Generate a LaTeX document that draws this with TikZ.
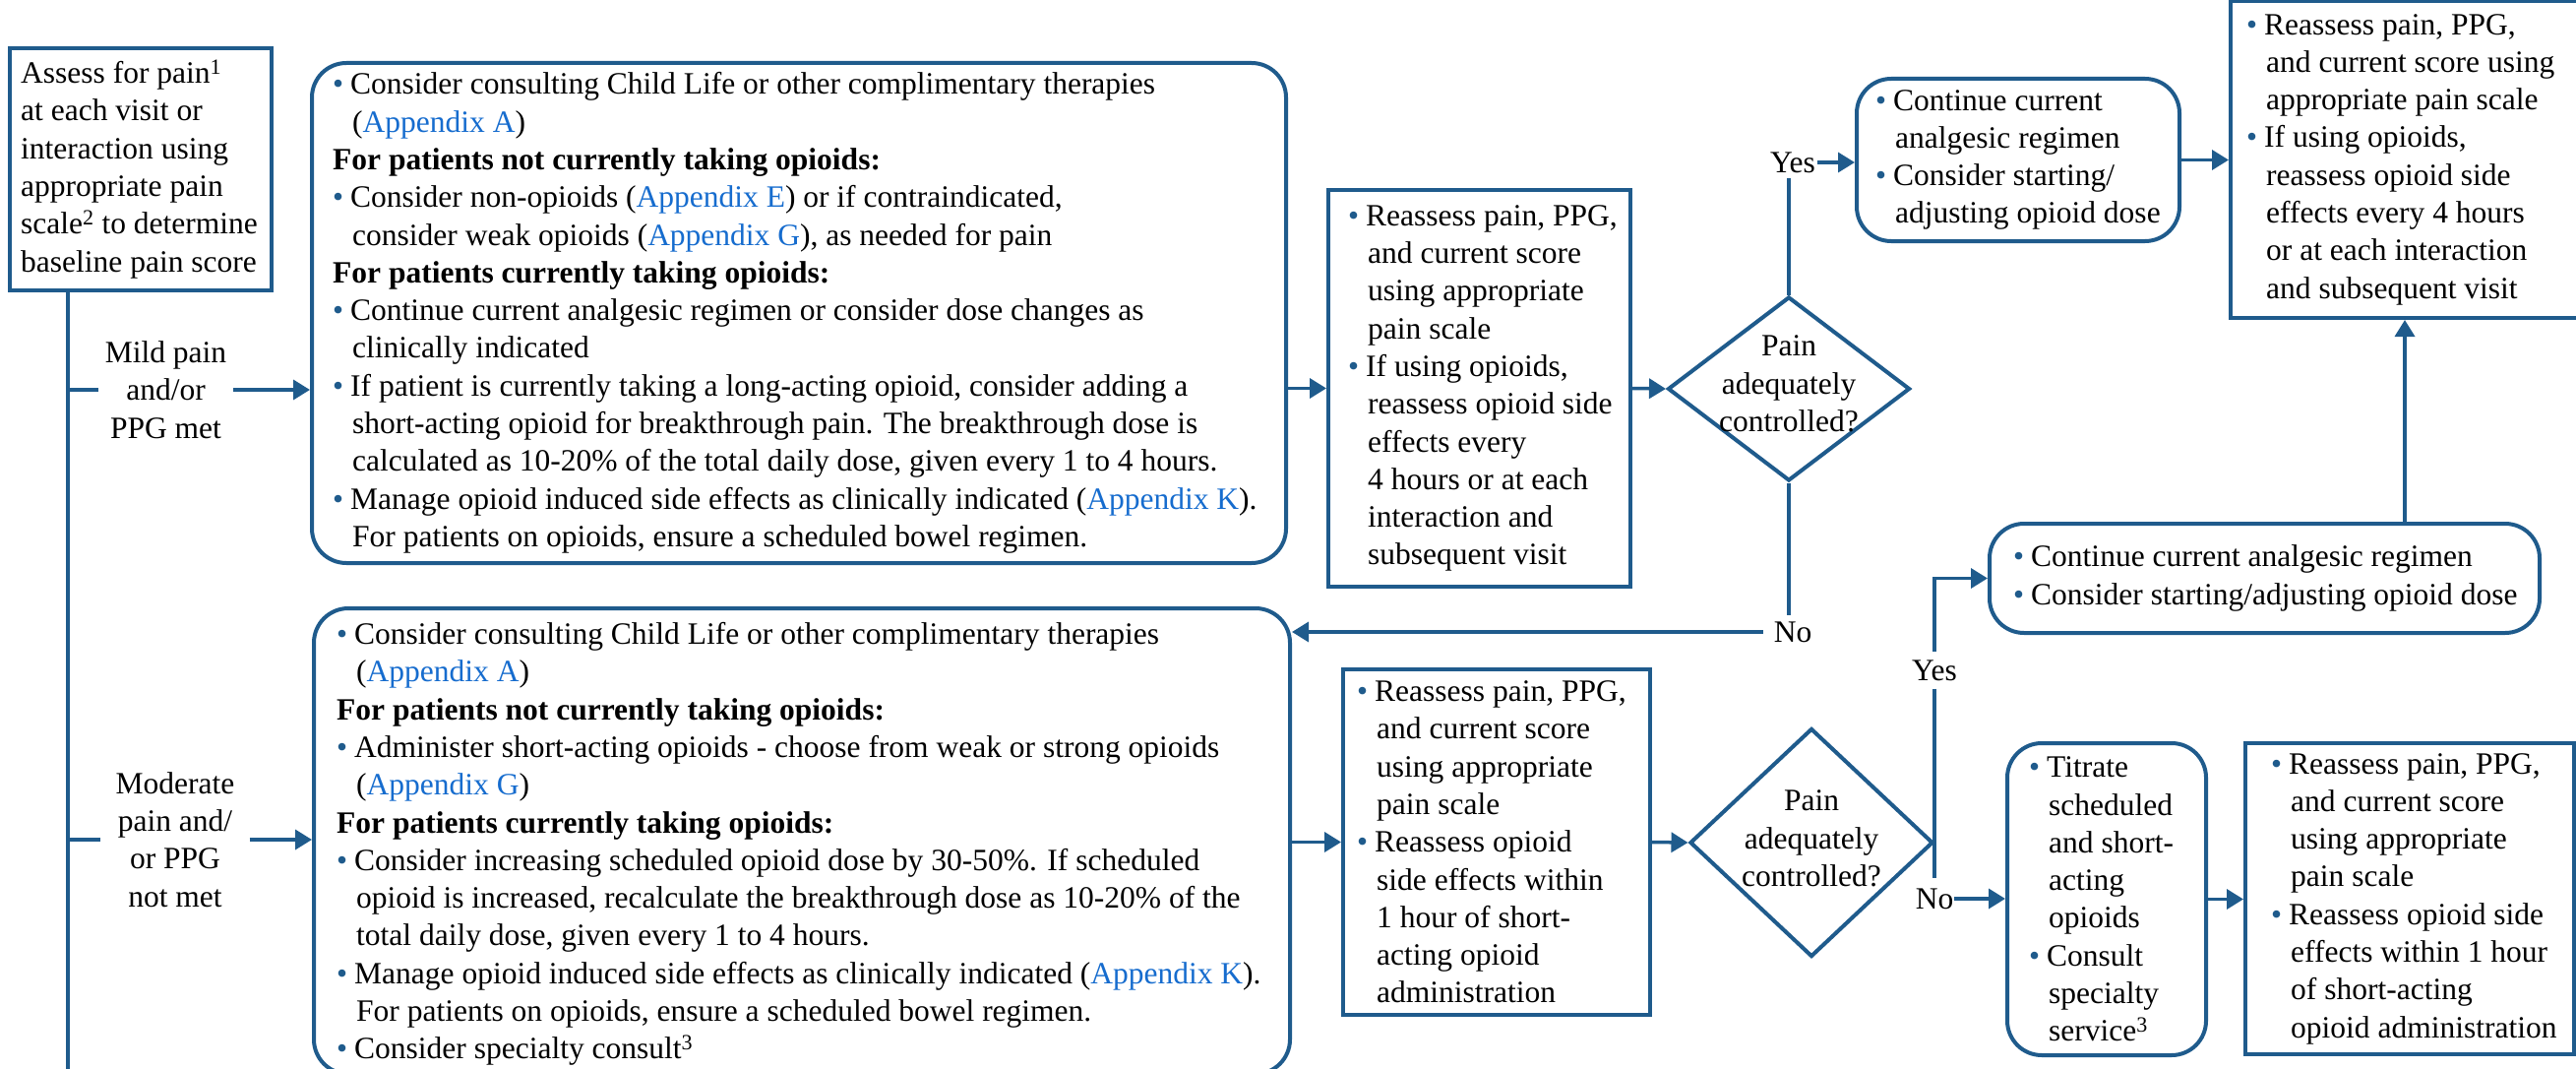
\documentclass[tikz,border=0pt]{standalone}
\usepackage{fontspec}
\setmainfont{Liberation Serif}
\usetikzlibrary{shapes.geometric,arrows.meta,calc}
\definecolor{lc}{RGB}{31,91,140}
\definecolor{lk}{RGB}{22,108,206}
\newcommand\fs{\fontsize{31.5}{38.3}\selectfont}
\newcommand\bl{\makebox[18pt][l]{\color{lc}\textbullet}}
\newcommand\ci{\hspace*{20pt}}
\newcommand\apx[1]{{\color{lk}Appendix #1}}
\tikzset{
  rbox/.style={draw=lc, line width=4pt, rounded corners=35pt, inner sep=0pt},
  sbox/.style={draw=lc, line width=4pt, inner sep=0pt},
  dia/.style={draw=lc, line width=4pt, diamond, inner sep=0pt},
  txt/.style={align=left, inner sep=0pt, font=\fs, anchor=west},
  lbl/.style={align=center, inner sep=0pt, font=\fs},
  yn/.style={inner xsep=2pt, font=\fs},
  conn/.style={draw=lc, line width=3.5pt},
  arr/.style={conn, -{Triangle[length=17pt,width=20pt]}},
}
\begin{document}
\begin{tikzpicture}[x=1pt,y=-1pt]
\useasboundingbox (0,0) rectangle (2618,1086);

% boxes
\node[sbox, minimum width=266pt, minimum height=246pt] (assess) at (143,172) {};
\node[rbox, minimum width=990pt, minimum height=508pt] (box1) at (812,318) {};
\node[rbox, minimum width=992pt, minimum height=473pt] (box2) at (815,854.5) {};
\node[sbox, minimum width=307pt, minimum height=403pt] (A) at (1503.5,394.5) {};
\node[dia, minimum width=246pt, minimum height=187pt] (d1) at (1818,395) {};
\node[rbox, minimum width=328pt, minimum height=165pt] (B) at (2051,162.5) {};
\node[sbox, minimum width=354pt, minimum height=322pt] (C) at (2444,162) {};
\node[rbox, minimum width=559pt, minimum height=111pt] (D) at (2301.5,587.5) {};
\node[sbox, minimum width=312pt, minimum height=351pt] (G) at (1521,855.5) {};
\node[dia, minimum width=247pt, minimum height=232pt] (d2) at (1841,856) {};
\node[rbox, minimum width=202pt, minimum height=317pt] (E) at (2141,913.5) {};
\node[sbox, minimum width=334pt, minimum height=316pt] (F) at (2449,913) {};

% texts
\node[txt] (assesst) at ([xshift=13pt]assess.west) {Assess for pain\textsuperscript{1}\\at each visit or\\interaction using\\appropriate pain\\scale\textsuperscript{2} to determine\\baseline pain score};

\node[txt] (box1t) at ([xshift=23pt]box1.west) {\bl Consider consulting Child Life or other complimentary therapies\\
\ci(\apx{A})\\
\textbf{For patients not currently taking opioids:}\\
\bl Consider non-opioids (\apx{E}) or if contraindicated,\\
\ci consider weak opioids (\apx{G}), as needed for pain\\
\textbf{For patients currently taking opioids:}\\
\bl Continue current analgesic regimen or consider dose changes as\\
\ci clinically indicated\\
\bl If patient is currently taking a long-acting opioid, consider adding a\\
\ci short-acting opioid for breakthrough pain. The breakthrough dose is\\
\ci calculated as 10-20\% of the total daily dose, given every 1 to 4 hours.\\
\bl Manage opioid induced side effects as clinically indicated (\apx{K}).\\
\ci For patients on opioids, ensure a scheduled bowel regimen.};

\node[txt] (box2t) at ([xshift=25pt,yshift=-3pt]box2.west) {\bl Consider consulting Child Life or other complimentary therapies\\
\ci(\apx{A})\\
\textbf{For patients not currently taking opioids:}\\
\bl Administer short-acting opioids - choose from weak or strong opioids\\
\ci(\apx{G})\\
\textbf{For patients currently taking opioids:}\\
\bl Consider increasing scheduled opioid dose by 30-50\%. If scheduled\\
\ci opioid is increased, recalculate the breakthrough dose as 10-20\% of the\\
\ci total daily dose, given every 1 to 4 hours.\\
\bl Manage opioid induced side effects as clinically indicated (\apx{K}).\\
\ci For patients on opioids, ensure a scheduled bowel regimen.\\
\bl Consider specialty consult\textsuperscript{3}};

\node[txt] (At) at ([xshift=22pt]A.west) {\bl Reassess pain, PPG,\\ \ci and current score\\ \ci using appropriate\\ \ci pain scale\\ \bl If using opioids,\\ \ci reassess opioid side\\ \ci effects every\\ \ci 4 hours or at each\\ \ci interaction and\\ \ci subsequent visit};

\node[lbl] (d1t) at ([yshift=5pt]d1.center) {Pain\\adequately\\controlled?};

\node[txt] (Bt) at ([xshift=21pt]B.west) {\bl Continue current\\ \ci analgesic regimen\\ \bl Consider starting/\\ \ci adjusting opioid dose};

\node[txt] (Ct) at ([xshift=18pt]C.west) {\bl Reassess pain, PPG,\\ \ci and current score using\\ \ci appropriate pain scale\\ \bl If using opioids,\\ \ci reassess opioid side\\ \ci effects every 4 hours\\ \ci or at each interaction\\ \ci and subsequent visit};

\node[txt] (Dt) at ([xshift=26pt]D.west) {\bl Continue current analgesic regimen\\ \bl Consider starting/adjusting opioid dose};

\node[txt] (Gt) at ([xshift=16pt]G.west) {\bl Reassess pain, PPG,\\ \ci and current score\\ \ci using appropriate\\ \ci pain scale\\ \bl Reassess opioid\\ \ci side effects within\\ \ci 1 hour of short-\\ \ci acting opioid\\ \ci administration};

\node[lbl] (d2t) at ([yshift=4pt]d2.center) {Pain\\adequately\\controlled?};

\node[txt] (Et) at ([xshift=24pt]E.west) {\bl Titrate\\ \ci scheduled\\ \ci and short-\\ \ci acting\\ \ci opioids\\ \bl Consult\\ \ci specialty\\ \ci service\textsuperscript{3}};

\node[txt] (Ft) at ([xshift=28pt]F.west) {\bl Reassess pain, PPG,\\ \ci and current score\\ \ci using appropriate\\ \ci pain scale\\ \bl Reassess opioid side\\ \ci effects within 1 hour\\ \ci of short-acting\\ \ci opioid administration};

% labels
\node[lbl, inner xsep=7pt] (mild) at (168.5,396) {Mild pain\\and/or\\PPG met};
\node[lbl, inner xsep=15pt] (mod) at (178,853) {Moderate\\pain and/\\or PPG\\not met};
\node[yn, inner ysep=5pt] (yes1) at (1822,165) {Yes};
\node[yn, inner xsep=11pt, inner ysep=6pt] (no1) at (1822,642) {No};
\node[yn, inner ysep=8pt] (yes2) at (1966,681) {Yes};
\node[yn, inner xsep=1pt, inner ysep=10pt] (no2) at (1966,913) {No};

% connectors
\coordinate (trunkbot) at (69,1092);
\draw[conn] (assess.south -| trunkbot) -- (trunkbot);
\draw[conn] (mild.west -| trunkbot) -- (mild.west);
\draw[arr] (mild.east) -- (mild.east -| box1.west);
\draw[conn] (mod.west -| trunkbot) -- (mod.west);
\draw[arr] (mod.east) -- (mod.east -| box2.west);
\draw[arr] (A.west -| box1.east) -- (A.west);
\draw[arr] (A.east) -- (d1.west);
\draw[conn] (d1.north) -- (d1.north |- yes1.south);
\draw[arr] (yes1.east) -- (yes1.east -| B.west);
\draw[arr] (B.east) -- (B.east -| C.west);
\draw[arr] (C.south |- D.north) -- (C.south);
\draw[conn] (d1.south) -- (d1.south |- no1.north);
\draw[arr] (no1.west) -- (no1.west -| box2.east);
\draw[arr] (G.west -| box2.east) -- (G.west);
\draw[arr] (G.east) -- (d2.west);
\draw[conn] (yes2.south) -- (yes2.south |- no2.north);
\draw[arr] (yes2.north) |- (D.west);
\draw[arr] (no2.east) -- (no2.east -| E.west);
\draw[arr] (E.east) -- (E.east -| F.west);
\end{tikzpicture}
\end{document}
